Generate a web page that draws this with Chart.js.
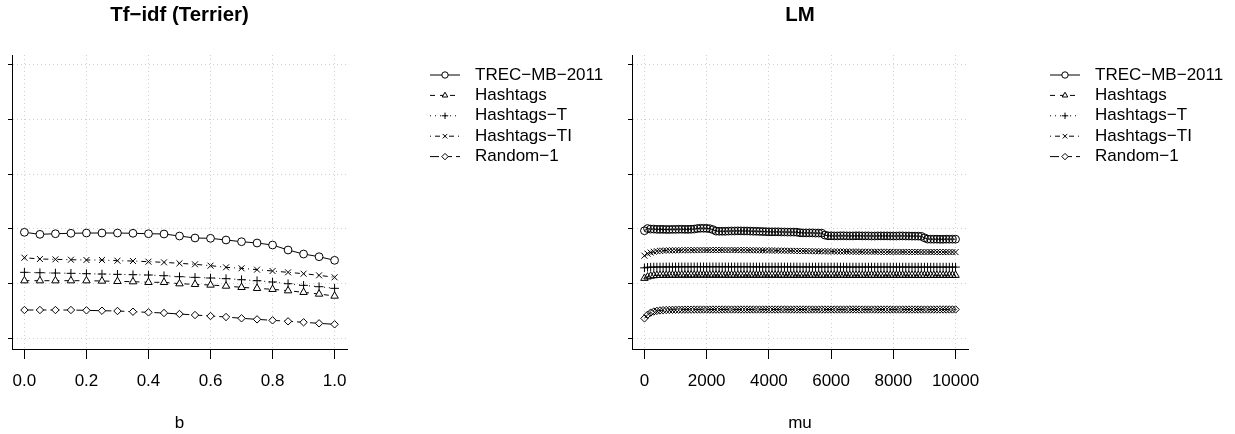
<!DOCTYPE html>
<html>
<head>
<meta charset="utf-8">
<script src="https://cdn.jsdelivr.net/npm/chart.js@4.4.0/dist/chart.umd.min.js"></script>
<style>
  body { margin: 0; background: #fff; }
  .panel { position: absolute; top: 0; height: 434px; }
  #left { left: 0; width: 617px; }
  #right { left: 617px; width: 618px; }
</style>
</head>
<body>
<div class="panel" id="left"><canvas id="tfidf"></canvas></div>
<div class="panel" id="right"><canvas id="lm"></canvas></div>
<script>
"use strict";

// 1: data
const seriesNames = ['TREC\u2212MB\u22122011', 'Hashtags', 'Hashtags\u2212T', 'Hashtags\u2212TI', 'Random\u22121'];
const yTicks = [0, 0.1, 0.2, 0.3, 0.4, 0.5];

// left panel: Tf-idf (Terrier), parameter b
const bValues = [0, 0.05, 0.1, 0.15, 0.2, 0.25, 0.3, 0.35, 0.4, 0.45, 0.5,
                 0.55, 0.6, 0.65, 0.7, 0.75, 0.8, 0.85, 0.9, 0.95, 1.0];
const bTicks = [0, 0.2, 0.4, 0.6, 0.8, 1.0];
const tfidfTrec = [0.1936, 0.1899, 0.1910, 0.1918, 0.1923, 0.1923, 0.1923, 0.1918, 0.1910, 0.1905, 0.1868,
                   0.1832, 0.1826, 0.1795, 0.1764, 0.1740, 0.1703, 0.1612, 0.1538, 0.1489, 0.1423];
const tfidfHash = [0.1050, 0.1050, 0.1050, 0.1050, 0.1050, 0.1044, 0.1038, 0.1032, 0.1020, 0.1020, 0.0995,
                   0.0983, 0.0971, 0.0952, 0.0928, 0.0910, 0.0892, 0.0867, 0.0837, 0.0806, 0.0769];
const tfidfHashT = [0.1203, 0.1196, 0.1190, 0.1185, 0.1178, 0.1172, 0.1166, 0.1160, 0.1154, 0.1141, 0.1123,
                    0.1111, 0.1099, 0.1087, 0.1068, 0.1050, 0.1026, 0.0995, 0.0965, 0.0940, 0.0910];
const tfidfHashTI = [0.1471, 0.1447, 0.1441, 0.1434, 0.1429, 0.1429, 0.1416, 0.1410, 0.1398, 0.1386, 0.1368,
                     0.1350, 0.1325, 0.1295, 0.1277, 0.1252, 0.1227, 0.1203, 0.1178, 0.1148, 0.1112];
const tfidfRand = [0.0513, 0.0513, 0.0513, 0.0513, 0.0507, 0.0500, 0.0495, 0.0482, 0.0470, 0.0458, 0.0440,
                   0.0421, 0.0403, 0.0385, 0.0361, 0.0342, 0.0324, 0.0306, 0.0288, 0.0269, 0.0251];

// right panel: LM, parameter mu
const muValues = [
  0, 100, 200, 300, 400, 500, 600, 700, 800, 900,
  1000, 1100, 1200, 1300, 1400, 1500, 1600, 1700, 1800, 1900,
  2000, 2100, 2200, 2300, 2400, 2500, 2600, 2700, 2800, 2900,
  3000, 3100, 3200, 3300, 3400, 3500, 3600, 3700, 3800, 3900,
  4000, 4100, 4200, 4300, 4400, 4500, 4600, 4700, 4800, 4900,
  5000, 5100, 5200, 5300, 5400, 5500, 5600, 5700, 5800, 5900,
  6000, 6100, 6200, 6300, 6400, 6500, 6600, 6700, 6800, 6900,
  7000, 7100, 7200, 7300, 7400, 7500, 7600, 7700, 7800, 7900,
  8000, 8100, 8200, 8300, 8400, 8500, 8600, 8700, 8800, 8900,
  9000, 9100, 9200, 9300, 9400, 9500, 9600, 9700, 9800, 9900, 10000];
const muTicks = [0, 2000, 4000, 6000, 8000, 10000];
const lmTrec = [
  0.1965, 0.2005, 0.1995, 0.1995, 0.1990, 0.1990, 0.1990, 0.1988, 0.1988, 0.1990,
  0.1990, 0.1992, 0.1992, 0.1990, 0.1990, 0.1992, 0.1995, 0.2005, 0.2010, 0.2010,
  0.2008, 0.2002, 0.1985, 0.1958, 0.1955, 0.1955, 0.1955, 0.1958, 0.1960, 0.1960,
  0.1962, 0.1962, 0.1960, 0.1960, 0.1958, 0.1955, 0.1955, 0.1952, 0.1950, 0.1948,
  0.1945, 0.1945, 0.1945, 0.1945, 0.1942, 0.1942, 0.1940, 0.1940, 0.1940, 0.1938,
  0.1928, 0.1925, 0.1925, 0.1925, 0.1925, 0.1922, 0.1922, 0.1920, 0.1885, 0.1872,
  0.1872, 0.1870, 0.1870, 0.1872, 0.1872, 0.1870, 0.1870, 0.1870, 0.1872, 0.1872,
  0.1870, 0.1870, 0.1870, 0.1868, 0.1868, 0.1870, 0.1870, 0.1870, 0.1870, 0.1868,
  0.1868, 0.1868, 0.1870, 0.1870, 0.1868, 0.1868, 0.1866, 0.1866, 0.1866, 0.1862,
  0.1835, 0.1812, 0.1810, 0.1810, 0.1810, 0.1808, 0.1808, 0.1810, 0.1810, 0.1810, 0.1810];
const lmHash = [
  0.1095, 0.1120, 0.1135, 0.1143, 0.1148, 0.1150, 0.1151, 0.1152, 0.1152, 0.1153,
  0.1153, 0.1153, 0.1154, 0.1154, 0.1154, 0.1154, 0.1154, 0.1154, 0.1154, 0.1154,
  0.1154, 0.1154, 0.1154, 0.1154, 0.1154, 0.1153, 0.1153, 0.1153, 0.1153, 0.1153,
  0.1153, 0.1153, 0.1153, 0.1153, 0.1153, 0.1153, 0.1153, 0.1153, 0.1153, 0.1153,
  0.1153, 0.1153, 0.1153, 0.1153, 0.1153, 0.1152, 0.1152, 0.1152, 0.1152, 0.1152,
  0.1152, 0.1152, 0.1152, 0.1152, 0.1152, 0.1152, 0.1152, 0.1152, 0.1152, 0.1152,
  0.1152, 0.1152, 0.1152, 0.1152, 0.1152, 0.1151, 0.1151, 0.1151, 0.1151, 0.1151,
  0.1151, 0.1151, 0.1151, 0.1151, 0.1151, 0.1151, 0.1151, 0.1151, 0.1151, 0.1151,
  0.1151, 0.1151, 0.1151, 0.1151, 0.1151, 0.1150, 0.1150, 0.1150, 0.1150, 0.1150,
  0.1150, 0.1150, 0.1150, 0.1150, 0.1150, 0.1150, 0.1150, 0.1150, 0.1150, 0.1150, 0.1150];
const lmHashT = [
  0.1285, 0.1295, 0.1298, 0.1300, 0.1300, 0.1301, 0.1301, 0.1302, 0.1302, 0.1302,
  0.1302, 0.1303, 0.1303, 0.1303, 0.1303, 0.1303, 0.1304, 0.1304, 0.1304, 0.1304,
  0.1304, 0.1304, 0.1304, 0.1304, 0.1304, 0.1303, 0.1303, 0.1303, 0.1303, 0.1303,
  0.1303, 0.1303, 0.1303, 0.1303, 0.1303, 0.1303, 0.1302, 0.1302, 0.1302, 0.1302,
  0.1302, 0.1302, 0.1302, 0.1302, 0.1302, 0.1302, 0.1302, 0.1302, 0.1302, 0.1302,
  0.1301, 0.1301, 0.1301, 0.1301, 0.1301, 0.1301, 0.1301, 0.1301, 0.1301, 0.1301,
  0.1301, 0.1301, 0.1301, 0.1301, 0.1301, 0.1300, 0.1300, 0.1300, 0.1300, 0.1300,
  0.1300, 0.1300, 0.1300, 0.1300, 0.1300, 0.1300, 0.1300, 0.1300, 0.1300, 0.1300,
  0.1300, 0.1300, 0.1300, 0.1300, 0.1300, 0.1299, 0.1299, 0.1299, 0.1299, 0.1299,
  0.1299, 0.1299, 0.1299, 0.1299, 0.1299, 0.1299, 0.1299, 0.1299, 0.1299, 0.1299, 0.1299];
const lmHashTI = [
  0.1508, 0.1545, 0.1565, 0.1580, 0.1590, 0.1597, 0.1600, 0.1603, 0.1605, 0.1605,
  0.1606, 0.1607, 0.1607, 0.1608, 0.1608, 0.1608, 0.1609, 0.1609, 0.1610, 0.1610,
  0.1610, 0.1610, 0.1610, 0.1611, 0.1611, 0.1611, 0.1610, 0.1610, 0.1610, 0.1610,
  0.1609, 0.1609, 0.1609, 0.1608, 0.1608, 0.1607, 0.1607, 0.1606, 0.1605, 0.1605,
  0.1604, 0.1603, 0.1602, 0.1601, 0.1600, 0.1599, 0.1598, 0.1597, 0.1596, 0.1595,
  0.1594, 0.1593, 0.1592, 0.1591, 0.1590, 0.1589, 0.1588, 0.1588, 0.1587, 0.1586,
  0.1585, 0.1585, 0.1584, 0.1584, 0.1583, 0.1583, 0.1582, 0.1582, 0.1581, 0.1581,
  0.1580, 0.1580, 0.1580, 0.1579, 0.1579, 0.1579, 0.1578, 0.1578, 0.1578, 0.1578,
  0.1577, 0.1577, 0.1577, 0.1577, 0.1576, 0.1576, 0.1576, 0.1576, 0.1576, 0.1575,
  0.1575, 0.1575, 0.1575, 0.1575, 0.1575, 0.1574, 0.1574, 0.1574, 0.1574, 0.1574, 0.1573];
const lmRand = [
  0.0360, 0.0425, 0.0465, 0.0485, 0.0497, 0.0505, 0.0510, 0.0513, 0.0515, 0.0517,
  0.0518, 0.0519, 0.0519, 0.0520, 0.0520, 0.0520, 0.0521, 0.0521, 0.0521, 0.0521,
  0.0521, 0.0521, 0.0521, 0.0521, 0.0521, 0.0522, 0.0522, 0.0522, 0.0522, 0.0522,
  0.0522, 0.0522, 0.0522, 0.0522, 0.0522, 0.0522, 0.0522, 0.0522, 0.0522, 0.0522,
  0.0522, 0.0522, 0.0522, 0.0522, 0.0523, 0.0523, 0.0522, 0.0522, 0.0522, 0.0522,
  0.0522, 0.0522, 0.0522, 0.0522, 0.0522, 0.0522, 0.0522, 0.0522, 0.0522, 0.0522,
  0.0522, 0.0522, 0.0522, 0.0522, 0.0522, 0.0522, 0.0523, 0.0523, 0.0523, 0.0522,
  0.0522, 0.0522, 0.0522, 0.0522, 0.0522, 0.0522, 0.0522, 0.0522, 0.0522, 0.0522,
  0.0522, 0.0522, 0.0522, 0.0522, 0.0522, 0.0522, 0.0522, 0.0522, 0.0522, 0.0522,
  0.0522, 0.0522, 0.0522, 0.0522, 0.0522, 0.0523, 0.0523, 0.0523, 0.0523, 0.0523, 0.0523];

// 2: styles for each series (R lty / pch look-alikes)
const FONT = '"Liberation Sans", Arimo, Arial, Helvetica, sans-serif';
const styles = [
  { dash: [],           point: 'circle',   radius: 3.9 },
  { dash: [5, 5],       point: 'triangle', radius: 4.3 },
  { dash: [1, 4],       point: 'cross',    radius: 4.3 },
  { dash: [1, 4, 5, 4], point: 'crossRot', radius: 4.2 },
  { dash: [9, 4],       point: 'rectRot',  radius: 3.7 }
];

function makeDatasets(xs, series, fill) {
  return series.map((ys, i) => ({
    label: seriesNames[i],
    data: xs.map((x, j) => ({ x: x, y: ys[j] })),
    borderColor: '#000',
    borderWidth: 1,
    borderDash: styles[i].dash,
    pointStyle: styles[i].point,
    pointRadius: styles[i].radius,
    pointBorderColor: '#000',
    pointBackgroundColor: fill,
    pointBorderWidth: 1,
    tension: 0
  }));
}

function drawMarker(ctx, style, x, y, r) {
  ctx.beginPath();
  if (style === 'circle') {
    ctx.arc(x, y, r, 0, Math.PI * 2);
  } else if (style === 'triangle') {
    ctx.moveTo(x, y - r);
    ctx.lineTo(x + r * 0.866, y + r * 0.5);
    ctx.lineTo(x - r * 0.866, y + r * 0.5);
    ctx.closePath();
  } else if (style === 'rectRot') {
    ctx.moveTo(x, y - r); ctx.lineTo(x + r, y); ctx.lineTo(x, y + r); ctx.lineTo(x - r, y);
    ctx.closePath();
  }
  if (style === 'circle' || style === 'triangle' || style === 'rectRot') {
    ctx.fillStyle = '#fff';
    ctx.fill();
    ctx.stroke();
    return;
  }
  const d = style === 'cross' ? r : r * 0.707;
  if (style === 'cross') {
    ctx.moveTo(x - d, y); ctx.lineTo(x + d, y);
    ctx.moveTo(x, y - d); ctx.lineTo(x, y + d);
  } else {
    ctx.moveTo(x - d, y - d); ctx.lineTo(x + d, y + d);
    ctx.moveTo(x - d, y + d); ctx.lineTo(x + d, y - d);
  }
  ctx.stroke();
}

// title above the plot and legend on its right
const decorPlugin = {
  id: 'decor',
  afterDraw(chart, args, opts) {
    const ctx = chart.ctx;
    const area = chart.chartArea;
    ctx.save();
    ctx.fillStyle = '#000';
    ctx.font = 'bold 20.4px ' + FONT;
    ctx.textAlign = 'center';
    ctx.textBaseline = 'middle';
    ctx.fillText(opts.title, (area.left + area.right) / 2, 15);

    ctx.font = '17px ' + FONT;
    ctx.textAlign = 'left';
    chart.data.datasets.forEach((ds, i) => {
      const y = 75 + i * 20.4;
      ctx.strokeStyle = '#000';
      ctx.lineWidth = 1;
      ctx.setLineDash(ds.borderDash);
      ctx.beginPath();
      ctx.moveTo(opts.legendX, y);
      ctx.lineTo(opts.legendX + 30, y);
      ctx.stroke();
      ctx.setLineDash([]);
      drawMarker(ctx, ds.pointStyle, opts.legendX + 15, y, 3.2);
      ctx.fillStyle = '#000';
      ctx.fillText(ds.label, opts.legendX + 45, y);
    });
    ctx.restore();
  }
};

// 3: create and append the charts
function appendChart(canvasId, cfg) {
  const canvas = document.getElementById(canvasId);
  const gridOpts = {
    color: '#d0d0d0',
    lineWidth: 1,
    tickColor: '#000',
    tickBorderDash: [],
    tickWidth: 1
  };
  return new Chart(canvas, {
    type: 'line',
    data: { datasets: cfg.datasets },
    plugins: [decorPlugin],
    options: {
      responsive: true,
      maintainAspectRatio: false,
      animation: false,
      layout: { padding: { left: 0, right: cfg.padRight, top: 55, bottom: 0 } },
      plugins: {
        legend: { display: false },
        tooltip: { enabled: false },
        decor: { title: cfg.title, legendX: cfg.legendX }
      },
      scales: {
        x: {
          type: 'linear',
          min: cfg.xMin,
          max: cfg.xMax,
          afterFit: s => { s.height = 85; },
          afterBuildTicks: s => { s.ticks = cfg.xTicks.map(v => ({ value: v })); },
          ticks: {
            autoSkip: false,
            maxRotation: 0,
            padding: 12,
            color: '#000',
            font: { family: FONT, size: 17 },
            callback: cfg.tickFormat
          },
          grid: Object.assign({ tickLength: 10 }, gridOpts),
          border: { display: true, color: '#000', width: 1, dash: [1, 3] },
          title: {
            display: true,
            text: cfg.xTitle,
            color: '#000',
            font: { family: FONT, size: 17 },
            padding: { top: 0, bottom: 0 }
          }
        },
        y: {
          type: 'linear',
          min: -0.0201,
          max: 0.5183,
          afterFit: s => { s.width = cfg.yWidth; },
          afterBuildTicks: s => { s.ticks = yTicks.map(v => ({ value: v })); },
          ticks: { display: false },
          grid: Object.assign({ tickLength: 4 }, gridOpts),
          border: { display: true, color: '#000', width: 1, dash: [1, 3] }
        }
      }
    }
  });
}

appendChart('tfidf', {
  title: 'Tf\u2212idf (Terrier)',
  xTitle: 'b',
  datasets: makeDatasets(bValues, [tfidfTrec, tfidfHash, tfidfHashT, tfidfHashTI, tfidfRand], '#fff'),
  xMin: -0.04, xMax: 1.04, xTicks: bTicks,
  tickFormat: v => v.toFixed(1),
  yWidth: 12, padRight: 270, legendX: 430
});

appendChart('lm', {
  title: 'LM',
  xTitle: 'mu',
  datasets: makeDatasets(muValues, [lmTrec, lmHash, lmHashT, lmHashTI, lmRand], 'rgba(0,0,0,0)'),
  xMin: -400, xMax: 10400, xTicks: muTicks,
  tickFormat: v => String(v),
  yWidth: 15, padRight: 267, legendX: 433
});
</script>
</body>
</html>
